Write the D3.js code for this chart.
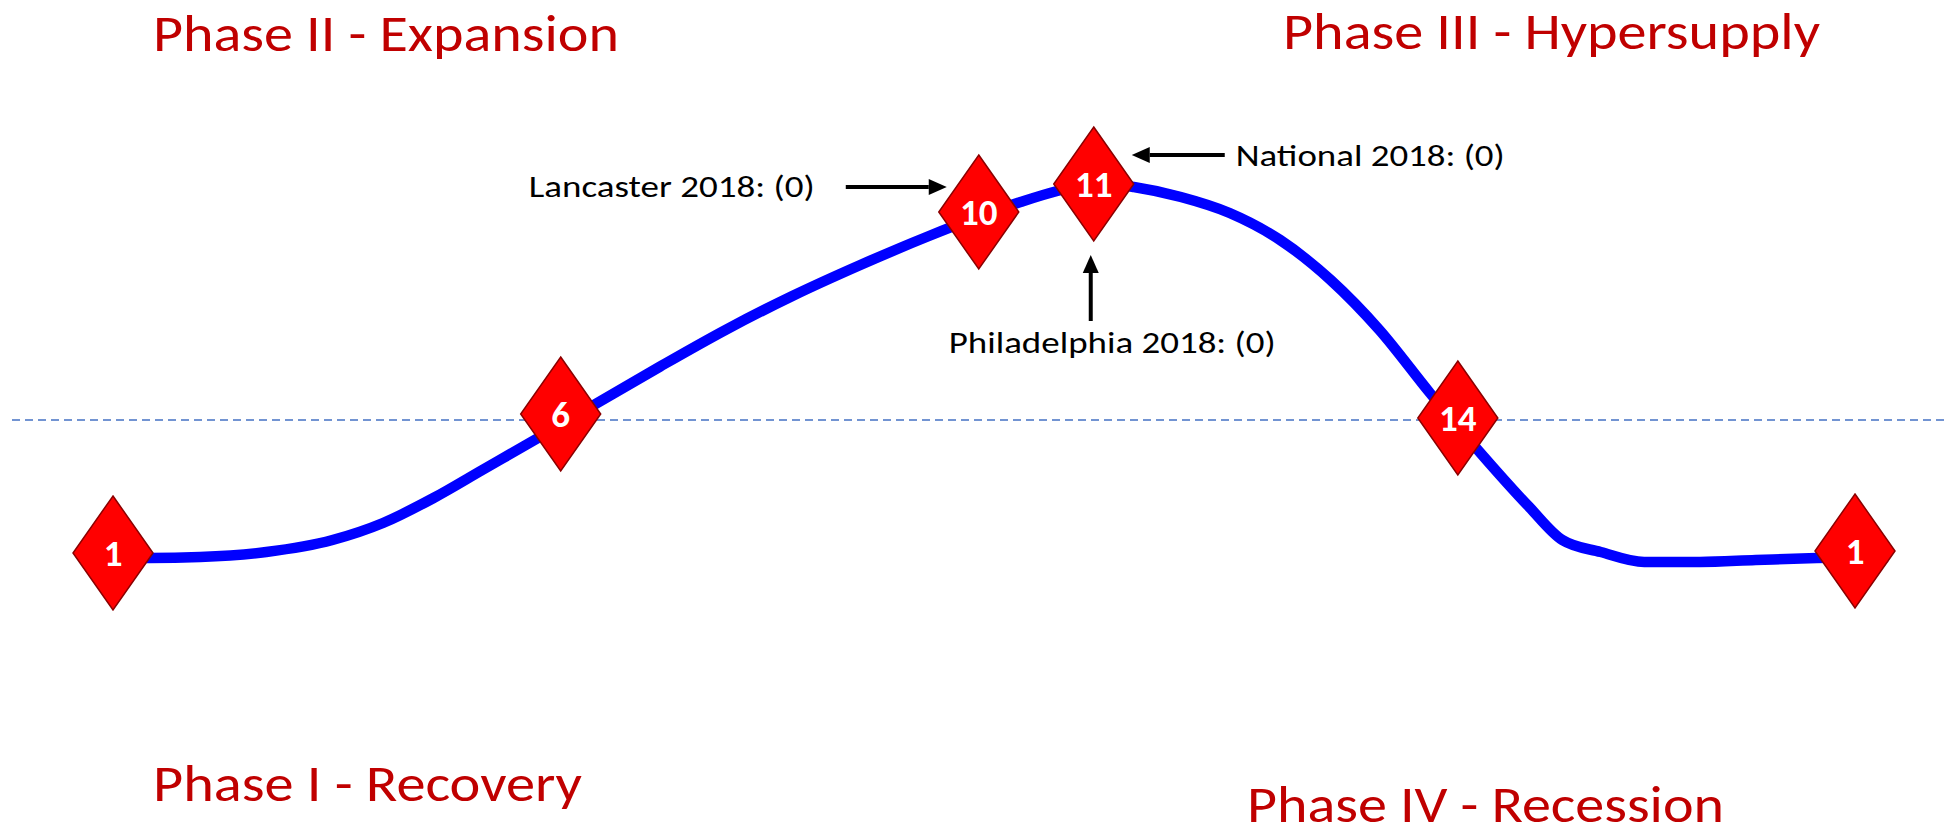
<!DOCTYPE html>
<html lang="en">
   <head>
      <meta charset="UTF-8" />
      <title>Real estate market cycle</title>
      <style>
         body { margin: 0; background: #fff; }
         svg { display: block; font-family: Carlito, Calibri, Lato, sans-serif; }
      </style>
   </head>
   <body>
      <svg width="1949" height="832"></svg>
      <script src="https://d3js.org/d3.v7.min.js"></script>
      <script>
        // cycle curve, position along the cycle (0-100) and market level (0-100)
        var curvePos   = [0, 2.1, 5.0, 8.8, 12.6, 15.5, 18.4, 21.2, 24.5, 27.8, 31.4, 35.2, 39.0, 42.9, 46.7, 52.1, 54.2, 56.4, 58.6, 61.3, 64.1, 67.0, 69.9, 72.7, 75.6, 78.5, 81.3, 83.2, 85.4, 87.9, 91.1, 94.3, 97.8, 101.9];
        var curveLevel = [1.75, 1.75, 2, 3.25, 6.25, 10.5, 16.75, 23.75, 32, 40.5, 49.6, 58.85, 67.25, 75, 82, 90.75, 93.5, 95.5, 94.5, 92, 88, 81.25, 71.25, 58.75, 43, 28, 14.5, 6.25, 3.25, 0.75, 0.75, 1.25, 1.75, 2];

        // markers on the cycle
        var markerLabels = ["1", "6", "10", "11", "14", "1"];
        var markerPos    = [0, 25.7, 49.7, 56.3, 77.2, 100];
        var markerLevel  = [3, 37.75, 88.25, 95.25, 36.75, 3.5];

        // long term average (dashed line)
        var averageLevel = 36.25;

        // phase titles
        var phaseNames = ["Phase II - Expansion", "Phase III - Hypersupply", "Phase I - Recovery", "Phase IV - Recession"];

        // market callouts: text, marker index, side of the arrow
        var calloutText   = ["Lancaster 2018: (0)", "National 2018: (0)", "Philadelphia 2018: (0)"];
        var calloutMarker = [2, 3, 3];
        var calloutSide   = ["left", "right", "below"];

        var svg = d3.select("svg"),
            width = +svg.attr("width"),
            height = +svg.attr("height");

        var x = d3.scaleLinear().domain([0, 100]).range([113, 1855]);
        var y = d3.scaleLinear().domain([0, 100]).range([565, 165]);

        // dashed average line
        svg.append("line")
            .attr("x1", 12)
            .attr("x2", width)
            .attr("y1", y(averageLevel))
            .attr("y2", y(averageLevel))
            .attr("stroke", "#4472c4")
            .attr("stroke-width", 1.6)
            .attr("stroke-dasharray", "8,5");

        // cycle curve
        var pts = curvePos.map(function(d, i) { return [d, curveLevel[i]]; });
        svg.append("path")
            .datum(pts)
            .attr("fill", "none")
            .attr("stroke", "#0000ff")
            .attr("stroke-width", 10.5)
            .attr("stroke-linejoin", "round")
            .attr("d", d3.line()
                .x(function(d) { return x(d[0]); })
                .y(function(d) { return y(d[1]); })
                .curve(d3.curveMonotoneX));

        // diamonds
        var hw = 40, hh = 57;
        var markers = svg.append("g")
            .selectAll("g")
            .data(markerLabels)
            .enter().append("g")
            .attr("transform", function(d, i) { return "translate(" + x(markerPos[i]) + "," + y(markerLevel[i]) + ")"; });

        markers.append("path")
            .attr("d", "M0," + (-hh) + "L" + hw + ",0L0," + hh + "L" + (-hw) + ",0Z")
            .attr("fill", "#ff0000")
            .attr("stroke", "#8b0000")
            .attr("stroke-width", 1.5);

        markers.append("text")
            .attr("text-anchor", "middle")
            .attr("dy", "0.36em")
            .attr("fill", "#fff")
            .attr("font-weight", "bold")
            .attr("font-size", "37px")
            .text(function(d) { return d; });

        // phase titles
        var phaseX = [153, 1283, 153, 1247],
            phaseY = [51, 49, 801, 822],
            phaseW = [466, 537, 429, 477];

        svg.append("g")
            .selectAll("text")
            .data(phaseNames)
            .enter().append("text")
            .attr("x", function(d, i) { return phaseX[i]; })
            .attr("y", function(d, i) { return phaseY[i]; })
            .attr("textLength", function(d, i) { return phaseW[i]; })
            .attr("lengthAdjust", "spacingAndGlyphs")
            .attr("fill", "#c00000")
            .attr("font-size", "52px")
            .text(function(d) { return d; });

        // callouts with arrows
        function arrow(x1, y1, x2, y2) {
            // shaft from (x1,y1) to the tip (x2,y2)
            var a = Math.atan2(y2 - y1, x2 - x1),
                len = 18, w = 8,
                bx = x2 - len * Math.cos(a),
                by = y2 - len * Math.sin(a);
            svg.append("line")
                .attr("x1", x1).attr("y1", y1)
                .attr("x2", bx).attr("y2", by)
                .attr("stroke", "#000")
                .attr("stroke-width", 4);
            svg.append("path")
                .attr("d", "M" + x2 + "," + y2 +
                    "L" + (bx + w * Math.sin(a)) + "," + (by - w * Math.cos(a)) +
                    "L" + (bx - w * Math.sin(a)) + "," + (by + w * Math.cos(a)) + "Z")
                .attr("fill", "#000");
        }

        calloutText.forEach(function(t, i) {
            var m = calloutMarker[i],
                cx = x(markerPos[m]),
                cy = y(markerLevel[m]),
                label = svg.append("text")
                    .attr("fill", "#000")
                    .attr("font-size", "31px")
                    .attr("lengthAdjust", "spacingAndGlyphs")
                    .text(t);

            if (calloutSide[i] == "left") {
                arrow(cx - 133, cy - 25, cx - 32, cy - 25);
                label.attr("x", cx - 450).attr("y", cy - 15).attr("textLength", 286);
            } else if (calloutSide[i] == "right") {
                arrow(cx + 131, cy - 29, cx + 38, cy - 29);
                label.attr("x", cx + 142).attr("y", cy - 18).attr("textLength", 269);
            } else {
                arrow(cx - 3, cy + 137, cx - 3, cy + 71);
                label.attr("x", cx - 145).attr("y", cy + 169).attr("textLength", 327);
            }
        });
      </script>
   </body>
</html>
